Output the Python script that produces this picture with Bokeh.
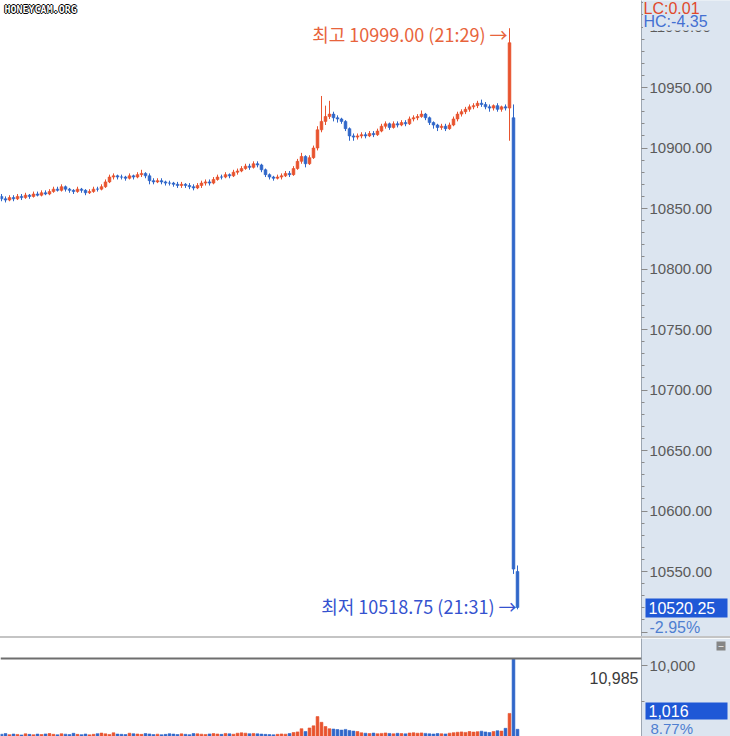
from bokeh.plotting import figure
from bokeh.models import (Range1d, Label, Span, NumeralTickFormatter, SingleIntervalTicker,
                          FixedTicker, ColumnDataSource, Div)
from bokeh.core.properties import value
from bokeh.layouts import column
from bokeh.embed import file_html
from bokeh.resources import INLINE

# ---------------- data (1-minute candles, last three: 21:29, 21:30, 21:31) ----------------
opens = [10860, 10858, 10857, 10859, 10858,
         10860, 10859, 10861, 10860, 10862,
         10861, 10863, 10862, 10864, 10866,
         10865, 10868, 10866, 10865, 10864,
         10866, 10865, 10863, 10864, 10866,
         10866, 10868, 10872, 10876, 10877,
         10876, 10876, 10875, 10877, 10876,
         10878, 10879, 10877, 10873, 10872,
         10873, 10872, 10871, 10871, 10870,
         10869, 10870, 10869, 10868, 10867,
         10869, 10871, 10872, 10871, 10874,
         10876, 10876, 10878, 10877, 10880,
         10881, 10883, 10885, 10884, 10887,
         10886, 10882, 10878, 10876, 10875,
         10876, 10877, 10879, 10878, 10883,
         10889, 10893, 10887, 10892, 10900,
         10915, 10922, 10926, 10928, 10925,
         10924, 10922, 10916, 10910, 10909,
         10910, 10911, 10910, 10912, 10911,
         10914, 10918, 10920, 10917, 10920,
         10919, 10921, 10920, 10924, 10925,
         10926, 10928, 10925, 10921, 10919,
         10917, 10918, 10916, 10919, 10924,
         10928, 10930, 10932, 10934, 10935,
         10937, 10936, 10934, 10933, 10935,
         10932, 10934, 10933, 10925, 10550]
highs = [10862, 10860, 10861, 10861, 10862,
         10862, 10863, 10862, 10864, 10864,
         10865, 10865, 10866, 10868, 10868,
         10870, 10869, 10867, 10866, 10868,
         10867, 10866, 10866, 10868, 10868,
         10870, 10874, 10878, 10879, 10878,
         10878, 10877, 10879, 10878, 10880,
         10882, 10880, 10879, 10875, 10875,
         10875, 10873, 10873, 10872, 10872,
         10872, 10871, 10871, 10870, 10871,
         10873, 10874, 10874, 10876, 10878,
         10878, 10880, 10879, 10882, 10883,
         10885, 10887, 10887, 10889, 10889,
         10887, 10883, 10879, 10877, 10878,
         10879, 10881, 10881, 10885, 10891,
         10896, 10894, 10894, 10902, 10918,
         10943, 10935, 10939, 10930, 10927,
         10925, 10923, 10917, 10912, 10912,
         10913, 10913, 10914, 10914, 10916,
         10920, 10922, 10921, 10922, 10922,
         10923, 10923, 10926, 10927, 10928,
         10931, 10929, 10926, 10922, 10920,
         10920, 10920, 10921, 10926, 10930,
         10932, 10934, 10936, 10937, 10939,
         10940, 10938, 10936, 10936, 10937,
         10935, 10936, 10999, 10936, 10555]
lows = [10856, 10855, 10856, 10856, 10857,
        10857, 10858, 10858, 10859, 10860,
        10860, 10861, 10861, 10863, 10864,
        10864, 10864, 10863, 10862, 10863,
        10863, 10861, 10862, 10863, 10864,
        10865, 10867, 10871, 10874, 10874,
        10874, 10873, 10874, 10874, 10875,
        10876, 10875, 10870, 10870, 10871,
        10870, 10869, 10869, 10868, 10867,
        10867, 10867, 10866, 10865, 10866,
        10867, 10869, 10869, 10870, 10873,
        10874, 10875, 10875, 10876, 10878,
        10880, 10882, 10882, 10883, 10884,
        10880, 10876, 10874, 10873, 10874,
        10874, 10876, 10876, 10877, 10882,
        10887, 10884, 10886, 10891, 10898,
        10913, 10919, 10924, 10922, 10921,
        10920, 10914, 10906, 10906, 10907,
        10908, 10908, 10909, 10909, 10910,
        10913, 10916, 10915, 10916, 10917,
        10918, 10918, 10919, 10922, 10923,
        10925, 10923, 10919, 10916, 10914,
        10915, 10914, 10915, 10918, 10922,
        10926, 10928, 10930, 10932, 10933,
        10934, 10932, 10930, 10931, 10930,
        10930, 10931, 10906, 10548, 10518.75]
closes = [10858, 10857, 10859, 10858, 10860,
          10859, 10861, 10860, 10862, 10861,
          10863, 10862, 10864, 10866, 10865,
          10868, 10866, 10865, 10864, 10866,
          10865, 10863, 10864, 10866, 10866,
          10868, 10872, 10876, 10877, 10876,
          10876, 10875, 10877, 10876, 10878,
          10879, 10877, 10873, 10872, 10873,
          10872, 10871, 10871, 10870, 10869,
          10870, 10869, 10868, 10867, 10869,
          10871, 10872, 10871, 10874, 10876,
          10876, 10878, 10877, 10880, 10881,
          10883, 10885, 10884, 10887, 10886,
          10882, 10878, 10876, 10875, 10876,
          10877, 10879, 10878, 10883, 10889,
          10893, 10887, 10892, 10900, 10915,
          10922, 10926, 10928, 10925, 10924,
          10922, 10916, 10910, 10909, 10910,
          10911, 10910, 10912, 10911, 10914,
          10918, 10920, 10917, 10920, 10919,
          10921, 10920, 10924, 10925, 10926,
          10928, 10925, 10921, 10919, 10917,
          10918, 10916, 10919, 10924, 10928,
          10930, 10932, 10934, 10935, 10937,
          10936, 10934, 10933, 10935, 10932,
          10934, 10933, 10987, 10552, 10520.25]
volumes = [320, 410, 260, 350, 290, 220, 380, 300, 250, 340,
           280, 360, 420, 310, 240, 390, 330, 270, 450, 300,
           260, 350, 230, 310, 400, 480, 370, 290, 520, 340,
           310, 280, 460, 390, 350, 300, 420, 360, 270, 330,
           250, 300, 390, 340, 280, 370, 310, 260, 420, 380,
           330, 290, 360, 410, 350, 300, 430, 380, 320, 460,
           520, 470, 390, 430, 380, 340, 300, 270, 240, 310,
           360, 330, 420, 560, 650, 1100, 700, 1200, 1500, 2800,
           2000, 1400, 1100, 1050, 980, 900, 1000, 850, 760, 700,
           520, 460, 410, 480, 390, 440, 500, 430, 380, 450,
           420, 370, 490, 530, 460, 510, 440, 380, 350, 420,
           390, 360, 470, 540, 600, 650, 580, 700, 620, 680,
           750, 640, 560, 710, 820, 760, 1150, 3250, 10985, 1016]

HIGH_TEXT = "최고 10999.00 (21:29) →"
LOW_TEXT = "최저 10518.75 (21:31) →"
LAST_PRICE = 10520.25
LAST_CHANGE = "-2.95%"
LC_TEXT = "LC:0.01"
HC_TEXT = "HC:-4.35"
MAX_VOL_TEXT = "10,985"
LAST_VOL_TEXT = "1,016"
LAST_VOL_PCT = "8.77%"

# ---------------- styling / geometry ----------------
UP = "#e8532e"
DOWN = "#2f66c9"
AX_BG = "#dce5f0"
AX_LINE = "#9ca6b2"
LBL = "#5a5a5a"
HILITE = "#1f58d6"

W = 730
FRAME_W = 641
PH = 636          # price panel height
VH = 98           # volume panel height
XR0, XR1 = -0.25, 160.0
PY0, PY1 = 10496.3, 11021.9
VY0, VY1 = 0, 13803


def sx(px):       # canvas x pixel -> x data units (for overlay texts beside the frame)
    return XR0 + px * (XR1 - XR0) / FRAME_W


def spy(py):      # canvas y pixel -> price units (price panel)
    return PY1 - py * (PY1 - PY0) / PH


def svy(py):      # canvas y pixel -> volume units (volume panel starts at PH + 2)
    return VY1 - (py - PH - 2) * (VY1 - VY0) / VH


idx = list(range(len(closes)))
colors = [UP if c > o else DOWN for o, c in zip(opens, closes)]
src = ColumnDataSource(dict(
    x=idx, open=opens, high=highs, low=lows, close=closes, vol=volumes, color=colors,
    top=[max(o, c) for o, c in zip(opens, closes)],
    bottom=[min(o, c) for o, c in zip(opens, closes)],
))

xr = Range1d(XR0, XR1)


def style_axis(ax):
    ax.axis_line_color = AX_LINE
    ax.major_tick_line_color = "#8a8a8a"
    ax.minor_tick_line_color = "#8a8a8a"
    ax.major_tick_in = 0
    ax.major_tick_out = 6
    ax.minor_tick_in = 0
    ax.minor_tick_out = 3
    ax.major_label_standoff = 2
    ax.major_label_text_color = LBL
    ax.major_label_text_font = "Liberation Sans"
    ax.major_label_text_font_size = "15px"


p = figure(width=W, height=PH, x_range=xr, y_range=Range1d(PY0, PY1),
           output_backend="svg", toolbar_location=None,
           x_axis_location=None, y_axis_location="right",
           min_border_left=0, min_border_right=W - FRAME_W, min_border_top=0, min_border_bottom=0,
           border_fill_color=AX_BG, background_fill_color="white", outline_line_color=None)
p.grid.visible = False
ya = p.yaxis[0]
ya.ticker = SingleIntervalTicker(interval=50, num_minor_ticks=5)
ya.formatter = NumeralTickFormatter(format="0.00")
style_axis(ya)
ya.major_label_overrides = {10500: ""}

p.segment(x0="x", y0="low", x1="x", y1="high", source=src, line_color="color", line_width=1)
p.vbar(x="x", width=0.7, top="top", bottom="bottom", source=src,
       fill_color="color", line_color="color", line_width=0.6)

hi_i = highs.index(max(highs))
lo_i = lows.index(min(lows))
p.add_layout(Label(x=hi_i, y=highs[hi_i], x_offset=-2, y_offset=-6, text=HIGH_TEXT,
                   text_align="right", text_baseline="middle", text_color="#e8643c",
                   text_font="Noto Sans CJK KR", text_font_size="18px"))
p.add_layout(Label(x=lo_i, y=lows[lo_i], x_offset=-1, y_offset=3, text=LOW_TEXT,
                   text_align="right", text_baseline="middle", text_color="#3552cf",
                   text_font="Noto Sans CJK KR", text_font_size="18px"))

# overlay boxes beside the frame (glyphs at overlay level are not clipped to the frame)
p.quad(left=[sx(642.5), sx(645)], right=[sx(730), sx(727)],
       top=[spy(0), spy(598)], bottom=[spy(30), spy(617)],
       fill_color=[AX_BG, HILITE], line_color=None, level="overlay")
p.text(x=[sx(643), sx(643)], y=[spy(8), spy(21)], text=[LC_TEXT, HC_TEXT],
       text_color=["#e0492b", "#4470d2"], text_baseline="middle",
       text_font=value("Liberation Sans"), text_font_size=value("16px"), level="overlay")
p.text(x=[sx(648)], y=[LAST_PRICE], text=[f"{LAST_PRICE:.2f}"], text_color="white",
       text_baseline="middle", text_font=value("Liberation Sans"),
       text_font_size=value("16px"), level="overlay")
p.text(x=[sx(649)], y=[spy(627)], text=[LAST_CHANGE], text_color="#4f7fd0",
       text_baseline="middle", text_font=value("Liberation Sans"),
       text_font_size=value("16px"), level="overlay")

# watermark
for dx, dy in [(-1, 0), (1, 0), (0, -1), (0, 1)]:
    p.add_layout(Label(x=4 + dx, y=PH - 9 + dy, x_units="screen", y_units="screen", text="HONEYCAM.ORG",
                       text_baseline="middle", text_color="black", text_font="DejaVu Sans Mono",
                       text_font_style="bold", text_font_size="10px"))
p.add_layout(Label(x=4, y=PH - 9, x_units="screen", y_units="screen", text="HONEYCAM.ORG",
                   text_baseline="middle", text_color="white", text_font="DejaVu Sans Mono",
                   text_font_style="bold", text_font_size="10px"))

sep = Div(text="", width=W, height=2, margin=0, styles={"background-color": "#c4c4c4"})

v = figure(width=W, height=VH, x_range=xr, y_range=Range1d(VY0, VY1),
           output_backend="svg", toolbar_location=None,
           x_axis_location=None, y_axis_location="right",
           min_border_left=0, min_border_right=W - FRAME_W, min_border_top=0, min_border_bottom=0,
           border_fill_color=AX_BG, background_fill_color="white", outline_line_color=None)
v.grid.visible = False
va = v.yaxis[0]
va.ticker = FixedTicker(ticks=[10000], minor_ticks=[5000])
va.formatter = NumeralTickFormatter(format="0,0")
style_axis(va)

v.vbar(x="x", width=0.7, top="vol", bottom=0, source=src, fill_color="color", line_color="color",
       line_width=0.6)
v.add_layout(Span(location=max(volumes), dimension="width", line_color="#6e6e6e", line_width=2))
v.add_layout(Label(x=FRAME_W - 3, x_units="screen", y=svy(677), text=MAX_VOL_TEXT, text_align="right",
                   text_baseline="middle", text_color="#3a3a3a", text_font="Liberation Sans",
                   text_font_size="16px"))
v.quad(left=[sx(645), sx(716)], right=[sx(727), sx(725)],
       top=[svy(702), svy(641)], bottom=[svy(719), svy(650)],
       fill_color=[HILITE, "#858585"], line_color=None, level="overlay")
v.text(x=[sx(648)], y=[svy(710.5)], text=[LAST_VOL_TEXT], text_color="white",
       text_baseline="middle", text_font=value("Liberation Sans"),
       text_font_size=value("16px"), level="overlay")
v.text(x=[sx(650)], y=[svy(728)], text=[LAST_VOL_PCT], text_color="#4f7fd0",
       text_baseline="middle", text_font=value("Liberation Sans"),
       text_font_size=value("15px"), level="overlay")
v.text(x=[sx(720.5)], y=[svy(645.5)], text=["\u2013"], text_color="white", text_align="center",
       text_baseline="middle", text_font=value("Liberation Sans"),
       text_font_size=value("9px"), level="overlay")

layout = column(p, sep, v, spacing=0)
open("out.html", "w").write(file_html(layout, INLINE))
